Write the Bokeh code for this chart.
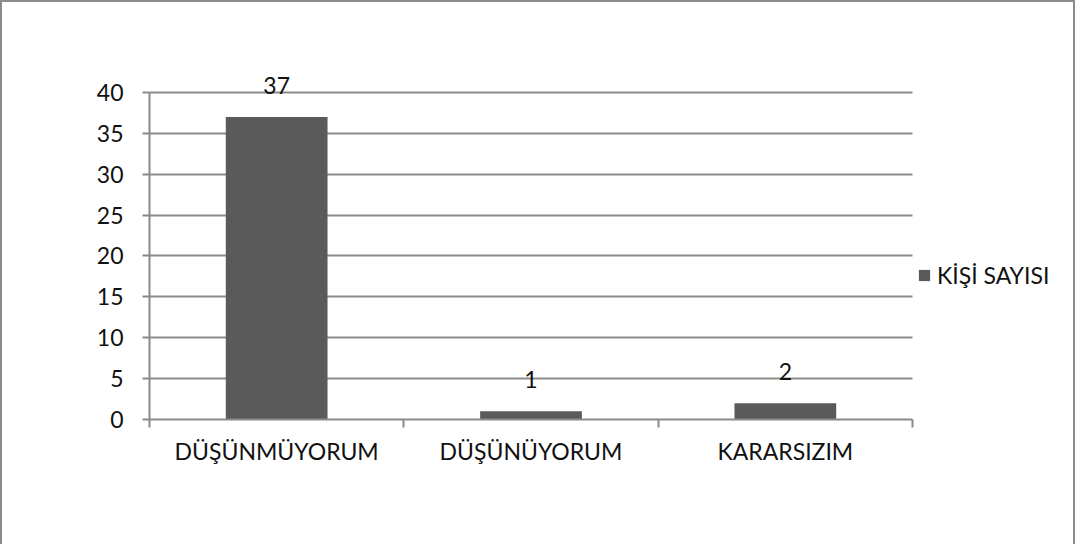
from bokeh.plotting import figure
from bokeh.models import (ColumnDataSource, FixedTicker, Legend, LegendItem,
                          LabelSet, Range1d, Grid)
from bokeh.core.properties import value
from bokeh.embed import file_html
from bokeh.resources import INLINE

categories = ["DÜŞÜNMÜYORUM", "DÜŞÜNÜYORUM", "KARARSIZIM"]
values = [37, 1, 2]
series_name = "KİŞİ SAYISI"
y_ticks = [0, 5, 10, 15, 20, 25, 30, 35, 40]

FONT = "Lato"
FS = "23px"
GRAY = "#8a8a8a"
BAR = "#5a5a5a"
TXT = "#111111"

n = len(categories)
xpos = [i + 0.5 for i in range(n)]
src = ColumnDataSource(dict(x=xpos, top=values, lab=[str(v) for v in values]))

# frame spans to the right edge; the category area (0..n) ends where the legend starts
W, H = 1075, 544
left, top, bottom = 147, 49, 127
cat_px = 763
frame_w = W - left
x_end = n * frame_w / cat_px

p = figure(width=W, height=H, output_backend="svg", toolbar_location=None,
           x_range=Range1d(0, x_end), y_range=Range1d(0, 45),
           min_border_left=left, min_border_right=0, min_border_top=top,
           min_border_bottom=bottom)
p.styles = {"border-left": "2px solid #8c8c8c", "border-top": "2px solid #8c8c8c",
            "border-right": "2px solid #8c8c8c", "box-sizing": "border-box"}
p.outline_line_color = None
p.background_fill_color = "white"
p.border_fill_color = "white"

r = p.vbar(x="x", top="top", width=0.4, bottom=0, source=src,
           fill_color=BAR, line_color=None)

labels = LabelSet(x="x", y="top", text="lab", source=src, y_offset=23,
                  text_align="center", text_baseline="alphabetic",
                  text_font=value(FONT), text_font_size=value(FS),
                  text_color=TXT)
p.add_layout(labels)

# x axis
xa = p.xaxis[0]
xa.bounds = (0, n)
xa.ticker = FixedTicker(ticks=xpos, minor_ticks=list(range(n + 1)))
xa.major_label_overrides = {x: c for x, c in zip(xpos, categories)}
xa.major_tick_out = 0
xa.major_tick_in = 0
xa.minor_tick_out = 8
xa.minor_tick_in = 0
xa.minor_tick_line_color = GRAY
xa.minor_tick_line_width = 2
xa.axis_line_color = GRAY
xa.axis_line_width = 2
xa.major_label_standoff = 9
xa.major_label_text_font = FONT
xa.major_label_text_font_size = FS
xa.major_label_text_color = TXT

# y axis
ya = p.yaxis[0]
ya.ticker = FixedTicker(ticks=y_ticks)
ya.bounds = (0, 40)
ya.major_tick_out = 7
ya.major_tick_in = 0
ya.minor_tick_line_color = None
ya.major_tick_line_color = GRAY
ya.major_tick_line_width = 2
ya.axis_line_color = GRAY
ya.axis_line_width = 2
ya.major_label_standoff = 19
ya.major_label_text_font = FONT
ya.major_label_text_font_size = FS
ya.major_label_text_color = TXT

p.xgrid.grid_line_color = None
p.ygrid.grid_line_color = GRAY
p.ygrid.grid_line_width = 2
p.ygrid.ticker = FixedTicker(ticks=y_ticks)
if "cross_bounds" in Grid.properties():
    p.ygrid.cross_bounds = (0, n)

legend = Legend(items=[LegendItem(label=series_name, renderers=[r])],
                location=(cat_px + 5, 130), padding=0, margin=0, spacing=0,
                glyph_width=14, glyph_height=14, label_standoff=6,
                label_text_font=FONT, label_text_font_size=FS,
                label_text_color=TXT, border_line_color=None,
                background_fill_alpha=0)
p.add_layout(legend, "center")

open("out.html", "w").write(file_html(p, INLINE))
